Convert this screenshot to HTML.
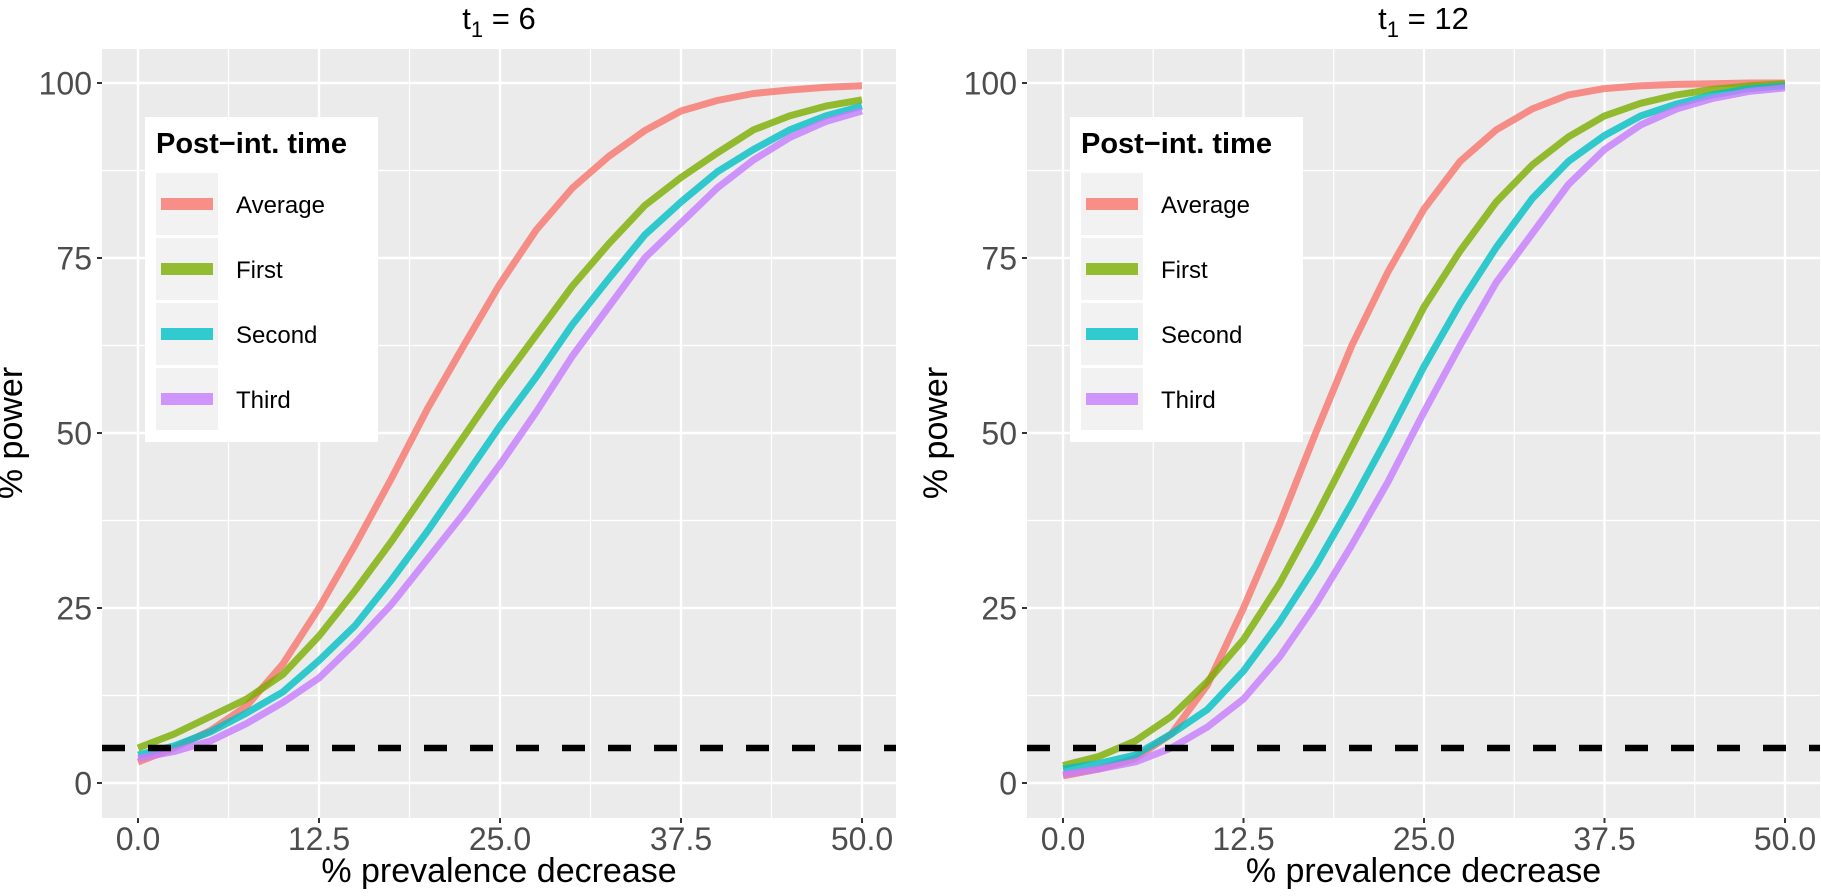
<!DOCTYPE html>
<html><head><meta charset="utf-8"><style>
html,body{margin:0;padding:0;background:#fff;}
svg{display:block;font-family:"Liberation Sans",sans-serif;}
</style></head><body>
<svg id="chart" width="1821" height="896" xmlns="http://www.w3.org/2000/svg"></svg>
<script>
const xValues = [0,2.5,5,7.5,10,12.5,15,17.5,20,22.5,25,27.5,30,32.5,35,37.5,40,42.5,45,47.5,50];
const seriesNames = ["Average","First","Second","Third"];
const seriesColors = ["#F8766D","#7CAE00","#00BFC4","#C77CFF"];
const panelTitles = ["6","12"];
const xTicks = [0,12.5,25,37.5,50];
const xTickLabels = ["0.0","12.5","25.0","37.5","50.0"];
const yTicks = [0,25,50,75,100];
const yTickLabels = ["0","25","50","75","100"];
const refLevel = 5;
const left_avg = [3,5,7.5,11,17,25,34,43.5,53.5,62.5,71.3,79,85,89.5,93.2,96,97.5,98.5,99,99.4,99.6];
const left_first = [5,7,9.5,12,15.5,21,27.5,34.5,42,49.5,57,64,71,77,82.5,86.5,90,93.3,95.3,96.7,97.6];
const left_second = [4,5.3,7.3,10,13,17.5,22.5,29,36,43.5,51,58,65.5,72,78.3,83,87.3,90.5,93.3,95.3,96.7];
const left_third = [3.5,4.5,6,8.5,11.5,15,20,25.5,32,38.5,45.5,53,61,68,75,80,85,89,92.2,94.5,96];
const right_avg = [1,2,3.5,7,14,25,37,50,62.5,73,82,88.8,93.3,96.3,98.3,99.2,99.6,99.8,99.9,100,100];
const right_first = [2.5,3.8,6,9.5,14.5,20.5,28.5,38,48,58,68,76,83,88.3,92.3,95.3,97.1,98.3,99.1,99.6,99.9];
const right_second = [2,2.8,4,7,10.5,16,23,31,40,49.5,59.5,68.5,76.5,83.5,88.8,92.5,95.3,97,98.3,99.2,99.6];
const right_third = [1.2,2,3,5,8,12,18,25.5,34,43,53,62.5,71.5,78.5,85.5,90.5,94,96.3,97.8,98.8,99.3];
const panelData = [[left_avg,left_first,left_second,left_third],[right_avg,right_first,right_second,right_third]];

const NS="http://www.w3.org/2000/svg";
const svg=document.getElementById('chart');
function mk(tag,attrs,parent){const e=document.createElementNS(NS,tag);for(const k in attrs)e.setAttribute(k,attrs[k]);(parent||svg).appendChild(e);return e;}

const panels=[{left:102,right:896,x0:138,x50:862},{left:1027,right:1820,x0:1063,x50:1785}];
const pTop=49,pBottom=818,y0=783,y100=83;
const yScale=v=>y0+(y100-y0)*v/100;

panels.forEach((p,pi)=>{
  const xScale=v=>p.x0+(p.x50-p.x0)*v/50;
  const g=mk('g',{});
  
  
  const bg=mk('rect',{x:p.left,y:pTop,width:p.right-p.left,height:pBottom-pTop,fill:'#EBEBEB'},g);
  
  
  [12.5,37.5,62.5,87.5].forEach(v=>{const l=mk('line',{x1:p.left,x2:p.right,y1:yScale(v),y2:yScale(v),stroke:'#fff','stroke-width':1.2},g);
    });
  [6.25,18.75,31.25,43.75].forEach(v=>{const l=mk('line',{y1:pTop,y2:pBottom,x1:xScale(v),x2:xScale(v),stroke:'#fff','stroke-width':1.2},g);
    });
  yTicks.forEach((v,i)=>{
    const y=yScale(v);
    const l=mk('line',{x1:p.left,x2:p.right,y1:y,y2:y,stroke:'#fff','stroke-width':2.4},g);
    
    const t=mk('line',{x1:p.left-5,x2:p.left,y1:y,y2:y,stroke:'#333','stroke-width':2},g);
    
    const tx=mk('text',{x:p.left-10,y:y+11.5,'text-anchor':'end','font-size':32,fill:'#4D4D4D'},g);
    tx.textContent=yTickLabels[i];
    
  });
  xTicks.forEach((v,i)=>{
    const x=xScale(v);
    const l=mk('line',{y1:pTop,y2:pBottom,x1:x,x2:x,stroke:'#fff','stroke-width':2.4},g);
    
    const t=mk('line',{y1:pBottom,y2:pBottom+5,x1:x,x2:x,stroke:'#333','stroke-width':2},g);
    
    const tx=mk('text',{x:x,y:850,'text-anchor':'middle','font-size':32,fill:'#4D4D4D'},g);
    tx.textContent=xTickLabels[i];
    
  });
  panelData[pi].forEach((arr,si)=>{
    const pts=arr.map((v,i)=>xScale(xValues[i]).toFixed(1)+','+yScale(v).toFixed(1)).join(' ');
    const pl=mk('polyline',{points:pts,fill:'none',stroke:seriesColors[si],'stroke-opacity':0.8,'stroke-width':7,'stroke-linejoin':'round'},g);
    
    
  });
  const d=mk('line',{x1:p.left,x2:p.right,y1:yScale(refLevel),y2:yScale(refLevel),stroke:'#000','stroke-width':6.5,'stroke-dasharray':'23 23'},g);
  
  const cx=(p.left+p.right)/2;
  const tt=mk('text',{x:cx,y:29,'text-anchor':'middle','font-size':31,fill:'#000'},g);
  const s1=mk('tspan',{},tt); s1.textContent='t';
  const s2=mk('tspan',{'font-size':22,dy:8},tt); s2.textContent='1';
  const s3=mk('tspan',{dy:-8},tt); s3.textContent=' = '+panelTitles[pi];
  
  const xt=mk('text',{x:cx,y:882,'text-anchor':'middle','font-size':34,fill:'#000'},g);
  xt.textContent='% prevalence decrease';
  
  const yx=p.left-80;
  const yt=mk('text',{x:yx,y:433,'text-anchor':'middle','font-size':34,fill:'#000',transform:'rotate(-90 '+yx+' 433)'},g);
  yt.textContent='% power';
  
  const lx=p.left+43;
  const lg=mk('g',{},g);
  
  mk('rect',{x:lx,y:117,width:233,height:325,fill:'#fff'},lg);
  const lt=mk('text',{x:lx+11,y:153,'font-size':29,'font-weight':'bold',fill:'#000'},lg);
  lt.textContent='Post\u2212int. time';
  
  seriesNames.forEach((n,si)=>{
    const ry=173+65*si;
    const eg=mk('g',{},lg);
    
    mk('rect',{x:lx+11,y:ry,width:62,height:62,fill:'#F2F2F2'},eg);
    mk('rect',{x:lx+16,y:ry+25,width:52,height:12,fill:seriesColors[si],'fill-opacity':0.8},eg);
    const t=mk('text',{x:lx+91,y:ry+40,'font-size':24,fill:'#000'},eg);
    t.textContent=n;
  });
});
</script>
</body></html>
